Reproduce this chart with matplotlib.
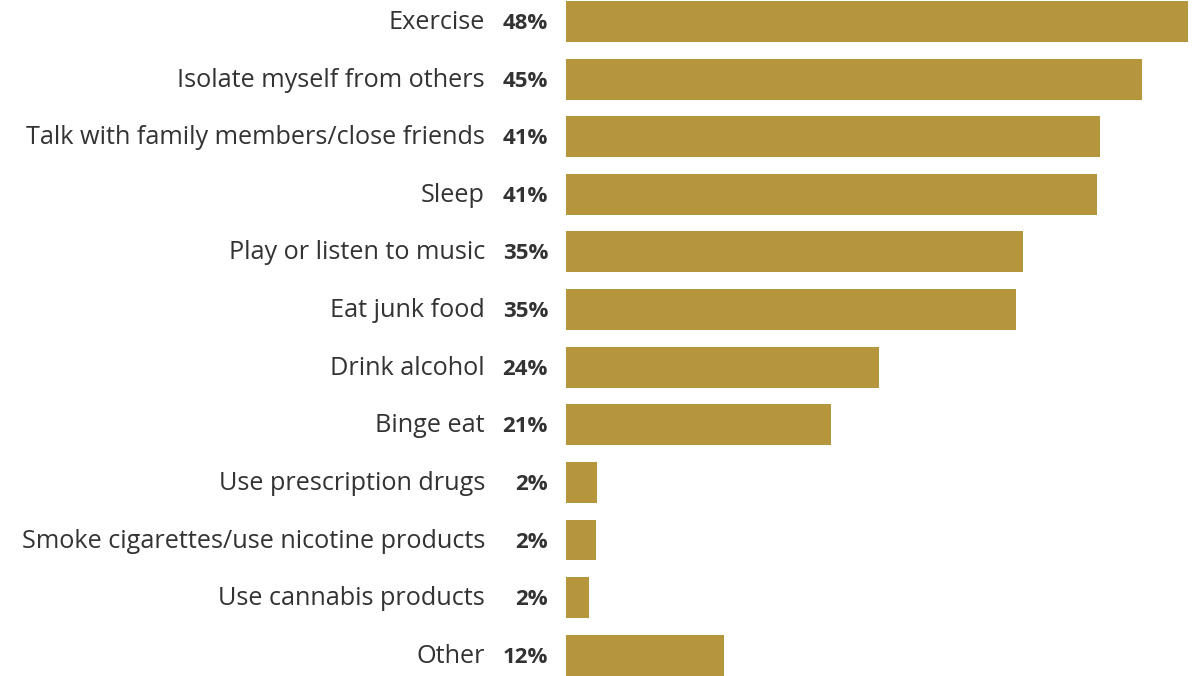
import matplotlib.pyplot as plt

categories = [
    "Exercise",
    "Isolate myself from others",
    "Talk with family members/close friends",
    "Sleep",
    "Play or listen to music",
    "Eat junk food",
    "Drink alcohol",
    "Binge eat",
    "Use prescription drugs",
    "Smoke cigarettes/use nicotine products",
    "Use cannabis products",
    "Other",
]
values = [48.2, 44.65, 41.4, 41.2, 35.4, 34.9, 24.3, 20.54, 2.4, 2.3, 1.8, 12.25]
pct_labels = ["48%", "45%", "41%", "41%", "35%", "35%", "24%", "21%", "2%", "2%", "2%", "12%"]

bar_color = "#B5963C"
text_color = "#333333"
plt.rcParams["font.family"] = ["Open Sans", "DejaVu Sans"]

fig = plt.figure(figsize=(12.01, 6.76), dpi=100)
ax = fig.add_axes([566 / 1201, 0, 1 - 566 / 1201, 1])

ypos = list(range(len(categories)))
ax.barh(ypos, values, height=0.71, color=bar_color)
ax.set_xlim(0, 635 / 12.9)
ax.set_ylim(11.36, -0.373)
ax.axis("off")

for y, cat, lab in zip(ypos, categories, pct_labels):
    ax.annotate(cat, (0, y), xytext=(-81, -7.5), textcoords="offset pixels",
                ha="right", va="baseline", fontsize=18.2, color=text_color)
    ax.annotate(lab, (0, y), xytext=(-18, -7.5), textcoords="offset pixels",
                ha="right", va="baseline", fontsize=16, fontweight="bold",
                color=text_color)

fig.savefig("out.png", dpi=100, facecolor="white")
